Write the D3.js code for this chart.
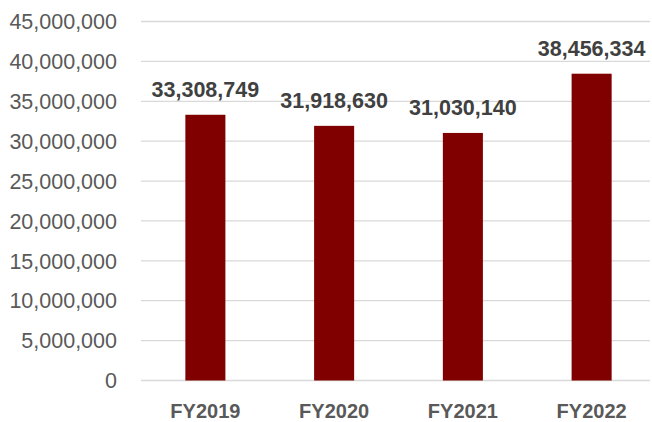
<!DOCTYPE html>
<html><head><meta charset="utf-8">
<script src="https://cdn.jsdelivr.net/npm/d3@7"></script>
<style>html,body{margin:0;padding:0;background:#fff;}</style>
</head><body>
<svg id="chart" width="652" height="422"></svg>
<script>
const categories = ["FY2019", "FY2020", "FY2021", "FY2022"];
const values = [33308749, 31918630, 31030140, 38456334];
const yTicks = [0, 5000000, 10000000, 15000000, 20000000, 25000000, 30000000, 35000000, 40000000, 45000000];

(function () {
const svg = d3.select("#chart");
const font = "'Liberation Sans', Arial, sans-serif";
const plotLeft = 141, plotRight = 656, plotTop = 21.5, plotBottom = 380.5;

const x = d3.scaleBand().domain(categories).range([plotLeft, plotRight]).paddingInner(0.689).paddingOuter(0.3445);
const y = d3.scaleLinear().domain([0, 45000000]).range([plotBottom, plotTop]);
const fmt = d3.format(",");

// gridlines
svg.append("g").selectAll("line").data(yTicks).join("line")
  .attr("x1", plotLeft).attr("x2", 650)
  .attr("y1", d => y(d)).attr("y2", d => y(d))
  .attr("stroke", "#d9d9d9").attr("stroke-width", 1.3);

// y labels
svg.append("g").selectAll("text").data(yTicks).join("text")
  .attr("x", 117).attr("y", d => y(d)).attr("dy", "0.36em")
  .attr("text-anchor", "end")
  .attr("font-family", font).attr("font-size", 21.5).attr("fill", "#595959")
  .text(d => fmt(d));

// bars
svg.append("g").selectAll("rect").data(values).join("rect")
  .attr("x", (d, i) => x(categories[i]))
  .attr("width", x.bandwidth())
  .attr("y", d => y(d))
  .attr("height", d => y(0) - y(d))
  .attr("fill", "#800000");

// data labels
svg.append("g").selectAll("text").data(values).join("text")
  .attr("x", (d, i) => x(categories[i]) + x.bandwidth() / 2)
  .attr("y", d => y(d) - 18)
  .attr("text-anchor", "middle")
  .attr("font-family", font).attr("font-weight", "bold").attr("font-size", 21.5).attr("fill", "#404040")
  .text(d => fmt(d));

// x labels
svg.append("g").selectAll("text").data(categories).join("text")
  .attr("x", d => x(d) + x.bandwidth() / 2)
  .attr("y", 418)
  .attr("text-anchor", "middle")
  .attr("font-family", font).attr("font-weight", "bold").attr("font-size", 20).attr("fill", "#595959")
  .text(d => d);
})();
</script>
</body></html>
